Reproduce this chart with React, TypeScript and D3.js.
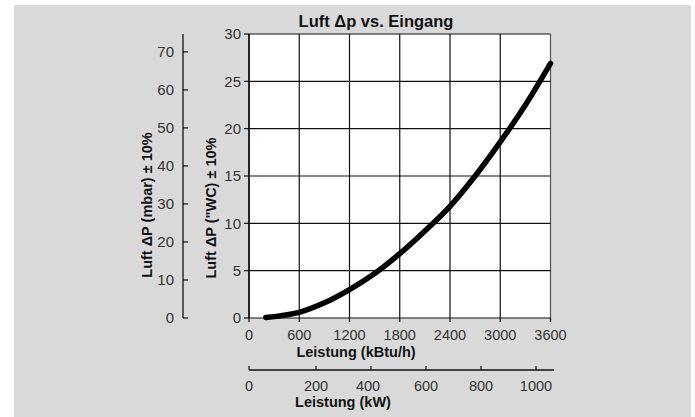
import { useEffect, useRef } from "react"
import * as d3 from "d3"

// Leistung in kBtu/h vs. Luft Δp in "WC
const inputKbtu = [200, 600, 900, 1200, 1500, 1800, 2100, 2400, 2700, 3000, 3300, 3600]
const dpWc = [0.05, 0.6, 1.6, 3.0, 4.7, 6.8, 9.2, 11.8, 15.0, 18.6, 22.5, 26.9]

const kbtuTicks = [0, 600, 1200, 1800, 2400, 3000, 3600]
const wcTicks = [0, 5, 10, 15, 20, 25, 30]
const mbarTicks = [0, 10, 20, 30, 40, 50, 60, 70]
const kwTicks = [0, 200, 400, 600, 800, 1000]

const font = "'Liberation Sans', Arial, Helvetica, sans-serif"

export default function App() {
  const svgRef = useRef<SVGSVGElement>(null)

  useEffect(() => {
    if (!svgRef.current) return
    const svg = d3.select(svgRef.current)
    svg.selectAll("*").remove()

    const W = 695
    const H = 417
    const margin = { top: 34, right: 144.5, bottom: 99, left: 249 }
    const width = W - margin.left - margin.right
    const height = H - margin.top - margin.bottom

    // grey panel
    svg.append("rect")
      .attr("x", 14).attr("y", 5)
      .attr("width", 677).attr("height", 412)
      .attr("fill", "#d9d9d9")

    const x = d3.scaleLinear().domain([0, 3600]).range([0, width])
    const y = d3.scaleLinear().domain([0, 30]).range([height, 0])
    // mbar = "WC * 2.49
    const yMbar = d3.scaleLinear().domain([0, 30 * 2.49]).range([height, 0])
    // kW axis as printed (first interval is stretched in the original)
    const xKw = d3.scaleLinear().domain([0, 200, 1000]).range([0, 67, 287])

    const g = svg.append("g").attr("transform", `translate(${margin.left},${margin.top})`)

    g.append("rect")
      .attr("width", width).attr("height", height)
      .attr("fill", "#fff")

    // grid
    g.selectAll("line.v")
      .data(kbtuTicks)
      .enter()
      .append("line")
      .attr("x1", (d) => x(d)).attr("x2", (d) => x(d))
      .attr("y1", 0).attr("y2", height)
      .attr("stroke", (d) => (d === 3600 ? "#555" : "#111"))
      .attr("stroke-width", 1.2)

    g.selectAll("line.h")
      .data(wcTicks)
      .enter()
      .append("line")
      .attr("x1", 0).attr("x2", width)
      .attr("y1", (d) => y(d)).attr("y2", (d) => y(d))
      .attr("stroke", "#111")
      .attr("stroke-width", 1.2)

    // left axis ("WC)
    g.append("line")
      .attr("x1", 0).attr("x2", 0).attr("y1", 0).attr("y2", height)
      .attr("stroke", "#111").attr("stroke-width", 1.5)
    wcTicks.forEach((t) => {
      g.append("line")
        .attr("x1", -5).attr("x2", 0).attr("y1", y(t)).attr("y2", y(t))
        .attr("stroke", "#111").attr("stroke-width", 1.2)
      g.append("text")
        .attr("x", -8).attr("y", y(t)).attr("dy", "0.36em")
        .attr("text-anchor", "end")
        .attr("font-family", font).attr("font-size", 15)
        .attr("fill", "#333")
        .text(t)
    })

    // bottom axis (kBtu/h)
    kbtuTicks.forEach((t) => {
      g.append("line")
        .attr("x1", x(t)).attr("x2", x(t)).attr("y1", height).attr("y2", height + 4)
        .attr("stroke", "#111").attr("stroke-width", 1.2)
      g.append("text")
        .attr("x", x(t)).attr("y", height + 22)
        .attr("text-anchor", "middle")
        .attr("font-family", font).attr("font-size", 14.5)
        .attr("fill", "#333")
        .text(t)
    })

    // mbar axis
    const mb = svg.append("g").attr("transform", `translate(183,${margin.top})`)
    mb.append("line")
      .attr("x1", 0).attr("x2", 0).attr("y1", 0).attr("y2", height)
      .attr("stroke", "#111").attr("stroke-width", 1.3)
    mbarTicks.forEach((t) => {
      mb.append("line")
        .attr("x1", 0).attr("x2", 5).attr("y1", yMbar(t)).attr("y2", yMbar(t))
        .attr("stroke", "#111").attr("stroke-width", 1.2)
      mb.append("text")
        .attr("x", -9).attr("y", yMbar(t)).attr("dy", "0.36em")
        .attr("text-anchor", "end")
        .attr("font-family", font).attr("font-size", 15)
        .attr("fill", "#333")
        .text(t)
    })

    // kW axis
    const kw = svg.append("g").attr("transform", `translate(${margin.left},370)`)
    kw.append("line")
      .attr("x1", 0).attr("x2", 305).attr("y1", 0).attr("y2", 0)
      .attr("stroke", "#111").attr("stroke-width", 1.3)
    kwTicks.forEach((t) => {
      kw.append("line")
        .attr("x1", xKw(t)).attr("x2", xKw(t)).attr("y1", -4).attr("y2", 0)
        .attr("stroke", "#111").attr("stroke-width", 1.2)
      kw.append("text")
        .attr("x", xKw(t) - (t === 400 ? 3 : 0)).attr("y", 21)
        .attr("text-anchor", "middle")
        .attr("font-family", font).attr("font-size", 14.5)
        .attr("fill", "#333")
        .text(t)
    })

    // curve
    const pts = inputKbtu.map((v, i) => [v, dpWc[i]] as [number, number])
    const line = d3.line<[number, number]>()
      .x((d) => x(d[0]))
      .y((d) => y(d[1]))
      .curve(d3.curveCatmullRom.alpha(0.5))
    g.append("path")
      .attr("d", line(pts) || "")
      .attr("fill", "none")
      .attr("stroke", "#000")
      .attr("stroke-width", 5.5)
      .attr("stroke-linecap", "round")

    // titles
    svg.append("text")
      .attr("x", 376).attr("y", 27)
      .attr("text-anchor", "middle")
      .attr("font-family", font).attr("font-size", 16.5).attr("font-weight", "bold")
      .attr("fill", "#111")
      .text("Luft Δp vs. Eingang")

    svg.append("text")
      .attr("x", 356).attr("y", 357)
      .attr("text-anchor", "middle")
      .attr("font-family", font).attr("font-size", 14.5).attr("font-weight", "bold")
      .attr("fill", "#111")
      .text("Leistung (kBtu/h)")

    svg.append("text")
      .attr("x", 343).attr("y", 407)
      .attr("text-anchor", "middle")
      .attr("font-family", font).attr("font-size", 14.5).attr("font-weight", "bold")
      .attr("fill", "#111")
      .text("Leistung (kW)")

    svg.append("text")
      .attr("transform", "translate(146.5,205) rotate(-90)")
      .attr("dy", "0.36em")
      .attr("text-anchor", "middle")
      .attr("font-family", font).attr("font-size", 14.5).attr("font-weight", "bold")
      .attr("fill", "#111")
      .text("Luft ΔP (mbar) ± 10%")

    svg.append("text")
      .attr("transform", "translate(210.5,208) rotate(-90)")
      .attr("dy", "0.36em")
      .attr("text-anchor", "middle")
      .attr("font-family", font).attr("font-size", 14.5).attr("font-weight", "bold")
      .attr("fill", "#111")
      .text("Luft ΔP (\"WC) ± 10%")
  }, [])

  return (
    <svg
      ref={svgRef}
      width={695}
      height={417}
      style={{ position: "absolute", left: 0, top: 0, display: "block", background: "#fff" }}
    />
  )
}
